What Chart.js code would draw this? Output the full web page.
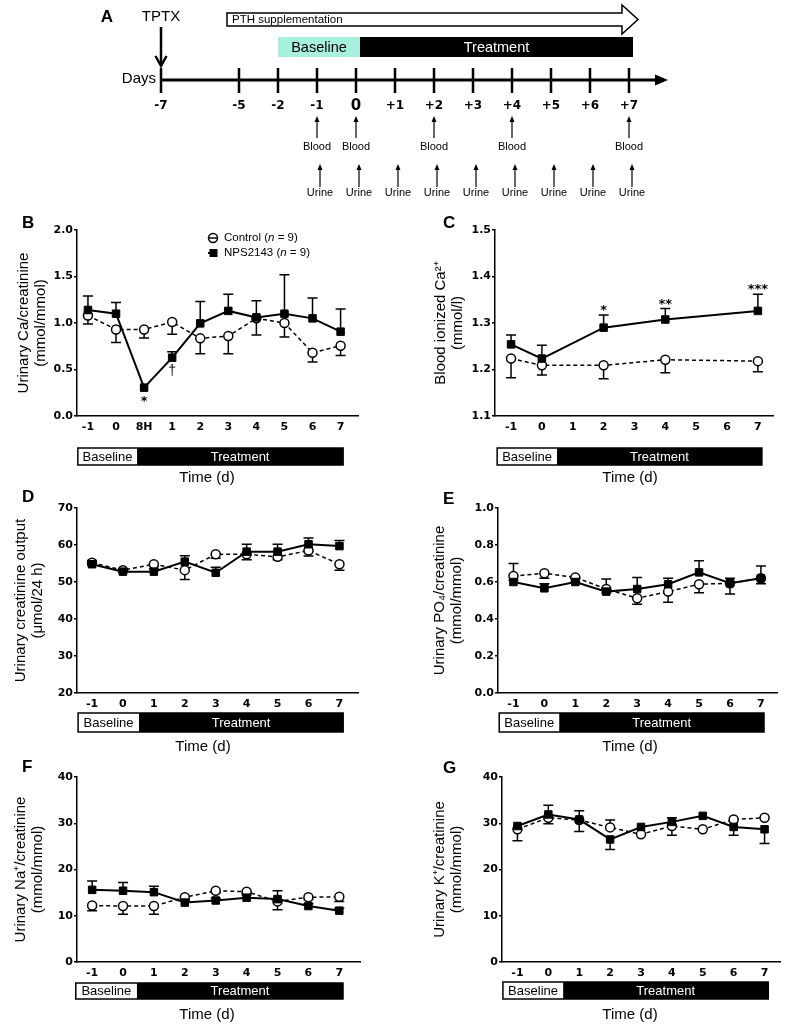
<!DOCTYPE html>
<html><head><meta charset="utf-8">
<script src="https://cdn.jsdelivr.net/npm/chart.js@4.4.1/dist/chart.umd.min.js"></script>
<style>
html,body{margin:0;padding:0;background:#fff;}
body{width:799px;height:1028px;position:relative;overflow:hidden;}
canvas{position:absolute;}
</style></head><body>
<canvas id="cA" width="799" height="205" style="left:0;top:0"></canvas>
<canvas id="cB" width="400" height="285" style="left:0;top:205px"></canvas>
<canvas id="cC" width="399" height="285" style="left:400px;top:205px"></canvas>
<canvas id="cD" width="400" height="265" style="left:0;top:490px"></canvas>
<canvas id="cE" width="399" height="265" style="left:400px;top:490px"></canvas>
<canvas id="cF" width="400" height="273" style="left:0;top:755px"></canvas>
<canvas id="cG" width="399" height="273" style="left:400px;top:755px"></canvas>
<script>
// ---------------- DATA ----------------
// Panel A timeline
const timelineDays = ['-7', '', '-5', '-2', '-1', '0', '+1', '+2', '+3', '+4', '+5', '+6', '+7'];
const bloodDays = ['-1', '0', '+2', '+4', '+7'];
const urineDays = ['-1', '0', '+1', '+2', '+3', '+4', '+5', '+6', '+7'];

// Panel B: urinary Ca/creatinine
const bLabels = ['-1', '0', '8H', '1', '2', '3', '4', '5', '6', '7'];
const bIndex = [0, 1, 2, 3, 4, 5, 6, 7, 8, 9];
const bControl = [1.08, 0.93, 0.93, 1.01, 0.835, 0.86, 1.05, 1.00, 0.68, 0.756];
const bControlLo = [0.99, 0.79, 0.84, 0.88, 0.67, 0.67, 0.87, 0.85, 0.58, 0.65];
const bNps = [1.14, 1.10, 0.305, 0.627, 0.996, 1.13, 1.06, 1.10, 1.05, 0.907];
const bNpsHi = [1.29, 1.22, null, 0.69, 1.23, 1.31, 1.24, 1.52, 1.27, 1.15];
const bMarks = ['', '', '*', '†', '', '', '', '', '', ''];
const bYTicks = [0, 0.5, 1.0, 1.5, 2.0];

// Panel C: blood ionized Ca2+
const cDays = [-1, 0, 2, 4, 7];
const cControl = [1.2235, 1.209, 1.209, 1.221, 1.218];
const cControlLo = [1.182, 1.188, 1.180, 1.193, 1.195];
const cNps = [1.254, 1.2235, 1.290, 1.3075, 1.326];
const cNpsHi = [1.274, 1.252, 1.317, 1.331, 1.362];
const cMarks = ['', '', '*', '**', '***'];
const cYTicks = [1.1, 1.2, 1.3, 1.4, 1.5];

// Panels D-G share the day axis
const days = [-1, 0, 1, 2, 3, 4, 5, 6, 7];
const dayTicks = [-1, 0, 1, 2, 3, 4, 5, 6, 7];

// Panel D: urinary creatinine output
const dControl = [55.2, 53.2, 54.8, 53.2, 57.5, 57.5, 56.8, 58.5, 54.8];
const dControlLo = [54.5, 52.6, 54.2, 50.7, 56.4, 56.0, 56.0, 57.0, 53.2];
const dNps = [54.8, 52.8, 52.8, 55.5, 52.5, 58.2, 58.2, 60.2, 59.7];
const dNpsHi = [55.8, 53.6, 53.5, 57.1, 54.0, 60.2, 60.2, 61.9, 61.2];
const dYTicks = [20, 30, 40, 50, 60, 70];

// Panel E: urinary PO4/creatinine
const eControl = [0.632, 0.647, 0.625, 0.562, 0.512, 0.548, 0.588, 0.593, 0.620];
const eControlLo = [0.61, 0.62, 0.60, 0.54, 0.48, 0.49, 0.542, 0.535, 0.59];
const eNps = [0.600, 0.566, 0.600, 0.548, 0.562, 0.588, 0.652, 0.593, 0.620];
const eNpsHi = [0.70, 0.59, 0.62, 0.616, 0.625, 0.62, 0.715, 0.62, 0.686];
const eYTicks = [0, 0.2, 0.4, 0.6, 0.8, 1.0];

// Panel F: urinary Na+/creatinine
const fControl = [12.2, 12.1, 12.1, 14.0, 15.4, 15.2, 13.1, 14.0, 14.1];
const fControlLo = [11.1, 10.3, 10.3, 13.5, 15.0, 14.8, 11.3, 13.5, 13.1];
const fNps = [15.6, 15.4, 15.1, 12.85, 13.3, 13.9, 13.6, 12.1, 11.1];
const fNpsHi = [17.5, 17.2, 16.4, 13.3, 13.8, 14.5, 15.4, 12.6, 11.6];
const fYTicks = [0, 10, 20, 30, 40];

// Panel G: urinary K+/creatinine
const gControl = [28.7, 31.2, 30.7, 29.1, 27.6, 29.4, 28.7, 30.8, 31.2];
const gControlHi = [null, null, null, 30.7, null, null, null, null, null];
const gControlLo = [26.2, 29.9, 28.2, null, null, 27.4, null, null, null];
const gNps = [29.4, 31.9, 30.8, 26.5, 29.2, 30.3, 31.6, 29.2, 28.7];
const gNpsHi = [null, 33.9, 32.7, null, null, 31.2, null, null, null];
const gNpsLo = [null, null, null, 24.3, null, null, null, 27.4, 25.6];
const gYTicks = [0, 10, 20, 30, 40];

// ---------------- STYLE ----------------
const FT = "'Liberation Sans', Arial, Helvetica, sans-serif";
const FB = "'DejaVu Sans', Verdana, sans-serif";

// ---------------- PANEL A ----------------
function timelinePlugin() {
  return {
    id: 'timeline',
    afterDraw(chart) {
      const ctx = chart.ctx, x = chart.scales.x;
      const pos = v => x.getPixelForValue(v);
      const idx = l => timelineDays.indexOf(l);
      ctx.save();
      ctx.fillStyle = '#000'; ctx.strokeStyle = '#000';
      ctx.textBaseline = 'middle';
      // letter
      ctx.font = `bold 17px ${FT}`; ctx.textAlign = 'center';
      ctx.fillText('A', 107, 17);
      // TPTX
      ctx.font = `15px ${FT}`;
      ctx.fillText('TPTX', pos(0), 17);
      ctx.lineWidth = 2.5;
      ctx.beginPath(); ctx.moveTo(pos(0), 27); ctx.lineTo(pos(0), 65); ctx.stroke();
      ctx.beginPath(); ctx.moveTo(pos(0) - 5.5, 56); ctx.lineTo(pos(0), 66); ctx.lineTo(pos(0) + 5.5, 56); ctx.stroke();
      // PTH arrow
      const p0 = pos(2) - 12, pb = pos(11.82), pt = pos(12.23);
      ctx.lineWidth = 1.5;
      ctx.beginPath();
      ctx.moveTo(p0, 13); ctx.lineTo(pb, 13); ctx.lineTo(pb, 5); ctx.lineTo(pt, 19.5);
      ctx.lineTo(pb, 34); ctx.lineTo(pb, 26); ctx.lineTo(p0, 26); ctx.closePath();
      ctx.fillStyle = '#fff'; ctx.fill(); ctx.stroke();
      ctx.fillStyle = '#000'; ctx.font = `11.5px ${FT}`; ctx.textAlign = 'left';
      ctx.fillText('PTH supplementation', p0 + 5, 19.5);
      // Baseline / Treatment
      const xb0 = pos(3), xb1 = pos(5) + 4, xt1 = pos(12) + 4;
      ctx.fillStyle = '#a8f0de'; ctx.fillRect(xb0, 37, xb1 - xb0, 20);
      ctx.fillStyle = '#000'; ctx.fillRect(xb1, 37, xt1 - xb1, 20);
      ctx.font = `14.5px ${FT}`; ctx.textAlign = 'center';
      ctx.fillText('Baseline', (xb0 + xb1) / 2, 47.5);
      ctx.fillStyle = '#fff';
      ctx.fillText('Treatment', (xb1 + xt1) / 2, 47.5);
      // axis
      ctx.fillStyle = '#000';
      ctx.lineWidth = 3;
      ctx.beginPath(); ctx.moveTo(pos(0), 80); ctx.lineTo(657, 80); ctx.stroke();
      ctx.beginPath(); ctx.moveTo(668, 80); ctx.lineTo(655, 74.5); ctx.lineTo(655, 85.5); ctx.closePath(); ctx.fill();
      ctx.font = `15px ${FT}`; ctx.textAlign = 'right';
      ctx.fillText('Days', 156, 79);
      ctx.lineWidth = 2.5; ctx.textAlign = 'center';
      timelineDays.forEach((d, i) => {
        if (!d) return;
        ctx.beginPath(); ctx.moveTo(pos(i), 68); ctx.lineTo(pos(i), 93); ctx.stroke();
        ctx.font = d === '0' ? `bold 15px ${FB}` : `bold 12px ${FB}`;
        ctx.fillText(d, pos(i), 106);
      });
      // sampling arrows
      const upArrow = (px, y0, y1) => {
        ctx.lineWidth = 1.2;
        ctx.beginPath(); ctx.moveTo(px, y0); ctx.lineTo(px, y1 + 4); ctx.stroke();
        ctx.beginPath(); ctx.moveTo(px, y1); ctx.lineTo(px - 2.5, y1 + 6); ctx.lineTo(px + 2.5, y1 + 6); ctx.closePath(); ctx.fill();
      };
      ctx.font = `11px ${FT}`;
      bloodDays.forEach(d => {
        const px = pos(idx(d));
        upArrow(px, 138, 116);
        ctx.fillText('Blood', px, 147);
      });
      urineDays.forEach(d => {
        const px = pos(idx(d)) + 3;
        upArrow(px, 187, 164);
        ctx.fillText('Urine', px, 193);
      });
      ctx.restore();
    }
  };
}

new Chart(document.getElementById('cA'), {
  type: 'line',
  data: { labels: timelineDays, datasets: [] },
  options: {
    responsive: false, animation: false, events: [],
    layout: { padding: { left: 161, right: 799 - 629, top: 0, bottom: 0 } },
    plugins: { legend: { display: false }, tooltip: { enabled: false } },
    scales: { x: { type: 'category', display: false, offset: false }, y: { display: false } }
  },
  plugins: [timelinePlugin()]
});

// ---------------- PANELS B-G ----------------
const errorBarPlugin = {
  id: 'errbars',
  beforeDatasetsDraw(chart) {
    const { ctx } = chart, x = chart.scales.x, y = chart.scales.y;
    ctx.save();
    ctx.strokeStyle = '#000'; ctx.lineWidth = 1.5;
    chart.data.datasets.forEach(ds => {
      ds.data.forEach((p, i) => {
        const px = x.getPixelForValue(p.x), py = y.getPixelForValue(p.y);
        [ds.errHi ? ds.errHi[i] : null, ds.errLo ? ds.errLo[i] : null].forEach(e => {
          if (e === null || e === undefined) return;
          const ey = y.getPixelForValue(e);
          ctx.beginPath();
          ctx.moveTo(px, py); ctx.lineTo(px, ey);
          ctx.moveTo(px - 5, ey); ctx.lineTo(px + 5, ey);
          ctx.stroke();
        });
      });
    });
    ctx.restore();
  }
};

function decorPlugin(cfg) {
  return {
    id: 'decor',
    afterDraw(chart) {
      const { ctx } = chart, x = chart.scales.x, y = chart.scales.y;
      ctx.save();
      ctx.textBaseline = 'middle';
      // panel letter
      ctx.fillStyle = '#000'; ctx.font = `bold 17px ${FT}`; ctx.textAlign = 'left';
      ctx.fillText(cfg.letter, cfg.letterX, cfg.letterY);
      // phase box
      const b = cfg.box;
      const x0 = x.getPixelForValue(b.start), xs = x.getPixelForValue(b.split), x1 = x.getPixelForValue(b.end);
      const h = b.bottom - b.top;
      ctx.fillStyle = '#fff'; ctx.fillRect(x0, b.top, xs - x0, h);
      ctx.fillStyle = '#000'; ctx.fillRect(xs, b.top, x1 - xs, h);
      ctx.strokeStyle = '#000'; ctx.lineWidth = 1.5; ctx.strokeRect(x0, b.top, x1 - x0, h);
      ctx.font = `13px ${FT}`; ctx.textAlign = 'center';
      ctx.fillText('Baseline', (x0 + xs) / 2, b.top + h / 2 + 0.5);
      ctx.fillStyle = '#fff';
      ctx.fillText('Treatment', (xs + x1) / 2, b.top + h / 2 + 0.5);
      // x title
      ctx.fillStyle = '#000'; ctx.font = `15px ${FT}`;
      ctx.fillText('Time (d)', cfg.xTitleX, cfg.xTitleY);
      // significance marks
      if (cfg.marks) {
        ctx.textBaseline = 'alphabetic';
        cfg.marks.forEach((m, i) => {
          if (!m) return;
          const px = x.getPixelForValue(cfg.markX[i]);
          const py = y.getPixelForValue(cfg.markY[i]) + cfg.markOffset;
          ctx.font = m === '†' ? `14px ${FT}` : `bold 13px ${FB}`;
          ctx.fillText(m, px, py);
        });
        ctx.textBaseline = 'middle';
      }
      // legend
      if (cfg.legend) {
        const L = cfg.legend;
        ctx.lineWidth = 1.5;
        // control
        ctx.beginPath(); ctx.arc(L.mx, L.y1, 4.5, 0, Math.PI * 2);
        ctx.fillStyle = '#fff'; ctx.fill(); ctx.stroke();
        ctx.beginPath(); ctx.moveTo(L.mx - 4.5, L.y1); ctx.lineTo(L.mx + 4.5, L.y1); ctx.stroke();
        // nps
        ctx.fillStyle = '#000';
        ctx.lineWidth = 2;
        ctx.beginPath(); ctx.moveTo(L.mx - 5, L.y2); ctx.lineTo(L.mx + 4, L.y2); ctx.stroke();
        ctx.fillRect(L.mx - 3.5, L.y2 - 4, 8, 8);
        ctx.textAlign = 'left';
        const parts = (name, yy) => {
          let tx = L.tx;
          ctx.font = `11.5px ${FT}`;
          ctx.fillText(name + ' (', tx, yy); tx += ctx.measureText(name + ' (').width;
          ctx.font = `italic 11.5px ${FT}`;
          ctx.fillText('n', tx, yy); tx += ctx.measureText('n').width;
          ctx.font = `11.5px ${FT}`;
          ctx.fillText(' = 9)', tx, yy);
        };
        parts('Control', L.y1);
        parts('NPS2143', L.y2);
      }
      ctx.restore();
    }
  };
}

function makePanel(id, cfg) {
  const cv = document.getElementById(id);
  const W = cv.width, H = cv.height, a = cfg.area;
  const pts = vals => cfg.x.map((v, i) => ({ x: v, y: vals[i] }));
  return new Chart(cv, {
    type: 'scatter',
    data: {
      datasets: [
        { label: 'NPS2143', data: pts(cfg.nps), errHi: cfg.npsHi, errLo: cfg.npsLo,
          showLine: true, borderColor: '#000', borderWidth: 2, pointStyle: 'rect', pointRadius: 5.3,
          pointBackgroundColor: '#000', pointBorderColor: '#000', pointBorderWidth: 1, order: 0, clip: false },
        { label: 'Control', data: pts(cfg.ctrl), errHi: cfg.ctrlHi, errLo: cfg.ctrlLo,
          showLine: true, borderColor: '#000', borderWidth: 1.5, borderDash: [4, 3], pointStyle: 'circle',
          pointRadius: 4.5, pointBackgroundColor: '#fff', pointBorderColor: '#000', pointBorderWidth: 1.5,
          order: 1, clip: false }
      ]
    },
    options: {
      responsive: false, animation: false, events: [],
      layout: { padding: { left: 0, top: a.top, right: W - a.right, bottom: 0 } },
      plugins: { legend: { display: false }, tooltip: { enabled: false } },
      scales: {
        x: {
          type: 'linear', min: cfg.xMin, max: cfg.xMax,
          afterBuildTicks: s => { s.ticks = cfg.xTicks.map(v => ({ value: v })); },
          afterFit: s => { s.height = H - a.bottom; },
          grid: { display: false, drawTicks: false },
          border: { display: true, color: '#000', width: 1.5 },
          ticks: { color: '#000', font: { family: FB, size: 11, weight: 'bold' }, padding: 5,
                   maxRotation: 0, autoSkip: false, callback: v => cfg.xLabel(v) }
        },
        y: {
          type: 'linear', min: cfg.yTicks[0], max: cfg.yTicks[cfg.yTicks.length - 1],
          afterBuildTicks: s => { s.ticks = cfg.yTicks.map(v => ({ value: v })); },
          afterFit: s => { s.width = a.left; },
          grid: { display: true, drawOnChartArea: false, drawTicks: true, tickLength: 3, color: '#000', lineWidth: 1.5 },
          border: { display: true, color: '#000', width: 1.5 },
          ticks: { color: '#000', font: { family: FB, size: 11, weight: 'bold' }, padding: 1,
                   autoSkip: false, callback: v => v.toFixed(cfg.yDec) },
          title: { display: true, text: cfg.yTitle, color: '#000',
                   font: { family: FT, size: 15, lineHeight: 1.15 }, padding: { top: cfg.yTitlePad, bottom: 0 } }
        }
      }
    },
    plugins: [errorBarPlugin, decorPlugin(cfg)]
  });
}

const dayLabel = v => String(v);

makePanel('cB', {
  x: bIndex, nps: bNps, npsHi: bNpsHi, ctrl: bControl, ctrlLo: bControlLo,
  xMin: -0.39, xMax: 9.62, xTicks: bIndex, xLabel: v => bLabels[v],
  yTicks: bYTicks, yDec: 1,
  yTitle: ['Urinary Ca/creatinine', '(mmol/mmol)'], yTitlePad: 15,
  area: { left: 77, right: 358, top: 25, bottom: 211 },
  box: { start: -0.36, split: 1.75, end: 9.09, top: 243, bottom: 260 },
  xTitleX: 207, xTitleY: 273,
  letter: 'B', letterX: 22, letterY: 18,
  marks: bMarks, markX: bIndex, markY: bNps, markOffset: 17.5,
  legend: { mx: 213, tx: 224, y1: 33, y2: 48 }
});

makePanel('cC', {
  x: cDays, nps: cNps, npsHi: cNpsHi, ctrl: cControl, ctrlLo: cControlLo,
  xMin: -1.52, xMax: 7.49, xTicks: dayTicks, xLabel: dayLabel,
  yTicks: cYTicks, yDec: 1,
  yTitle: ['Blood ionized Ca²⁺', '(mmol/l)'], yTitlePad: 32,
  area: { left: 95, right: 373, top: 25, bottom: 211 },
  box: { start: -1.45, split: 0.49, end: 7.13, top: 243, bottom: 260 },
  xTitleX: 230, xTitleY: 273,
  letter: 'C', letterX: 43, letterY: 18,
  marks: cMarks, markX: cDays, markY: cNpsHi, markOffset: -1
});

makePanel('cD', {
  x: days, nps: dNps, npsHi: dNpsHi, ctrl: dControl, ctrlLo: dControlLo,
  xMin: -1.485, xMax: 7.6, xTicks: dayTicks, xLabel: dayLabel,
  yTicks: dYTicks, yDec: 0,
  yTitle: ['Urinary creatinine output', '(μmol/24 h)'], yTitlePad: 12,
  area: { left: 77, right: 358, top: 18, bottom: 203 },
  box: { start: -1.45, split: 0.52, end: 7.12, top: 223, bottom: 242 },
  xTitleX: 203, xTitleY: 257,
  letter: 'D', letterX: 22, letterY: 7
});

makePanel('cE', {
  x: days, nps: eNps, npsHi: eNpsHi, ctrl: eControl, ctrlLo: eControlLo,
  xMin: -1.5, xMax: 7.52, xTicks: dayTicks, xLabel: dayLabel,
  yTicks: eYTicks, yDec: 1,
  yTitle: ['Urinary PO₄/creatinine', '(mmol/mmol)'], yTitlePad: 31,
  area: { left: 98, right: 377, top: 18, bottom: 203 },
  box: { start: -1.46, split: 0.48, end: 7.1, top: 223, bottom: 242 },
  xTitleX: 230, xTitleY: 257,
  letter: 'E', letterX: 43, letterY: 9
});

makePanel('cF', {
  x: days, nps: fNps, npsHi: fNpsHi, ctrl: fControl, ctrlLo: fControlLo,
  xMin: -1.49, xMax: 7.67, xTicks: dayTicks, xLabel: dayLabel,
  yTicks: fYTicks, yDec: 0,
  yTitle: ['Urinary Na⁺/creatinine', '(mmol/mmol)'], yTitlePad: 12,
  area: { left: 77, right: 360, top: 22, bottom: 207 },
  box: { start: -1.53, split: 0.45, end: 7.12, top: 228, bottom: 244 },
  xTitleX: 207, xTitleY: 260,
  letter: 'F', letterX: 22, letterY: 12
});

makePanel('cG', {
  x: days, nps: gNps, npsHi: gNpsHi, npsLo: gNpsLo, ctrl: gControl, ctrlHi: gControlHi, ctrlLo: gControlLo,
  xMin: -1.5, xMax: 7.5, xTicks: dayTicks, xLabel: dayLabel,
  yTicks: gYTicks, yDec: 0,
  yTitle: ['Urinary K⁺/creatinine', '(mmol/mmol)'], yTitlePad: 31,
  area: { left: 102, right: 380, top: 22, bottom: 207 },
  box: { start: -1.47, split: 0.48, end: 7.12, top: 227, bottom: 244 },
  xTitleX: 230, xTitleY: 260,
  letter: 'G', letterX: 43, letterY: 13
});
</script>
</body></html>
